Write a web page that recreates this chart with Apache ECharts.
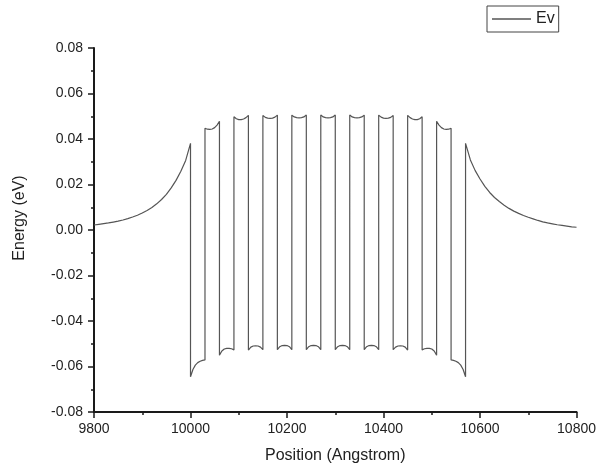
<!DOCTYPE html>
<html>
<head>
<meta charset="utf-8">
<title>Ev profile</title>
<script src="https://cdn.jsdelivr.net/npm/echarts@6/dist/echarts.min.js"></script>
<style>
  html, body { margin: 0; padding: 0; background: #fff; }
  #chart { width: 599px; height: 472px; }
</style>
</head>
<body>
<div id="chart"></div>
<script>
// Valence band edge (Ev) across the multi-quantum-well stack.

// Left cladding layer
const leftCladPos = [9800, 9810, 9820, 9830, 9840, 9850, 9860, 9870, 9880, 9890, 9900,
                     9910, 9920, 9930, 9940, 9950, 9960, 9970, 9980, 9990, 10000];
const leftCladEv = [0.0022, 0.0025, 0.0028, 0.0031, 0.0035, 0.0039, 0.0044, 0.0050, 0.0057, 0.0065, 0.0075,
                    0.0086, 0.0099, 0.0115, 0.0134, 0.0157, 0.0185, 0.0218, 0.0258, 0.0306, 0.0381];

// Stack layers: each layer is 30 Å thick, sampled every 5 Å
const layerStarts = [10000, 10030, 10060, 10090, 10120, 10150, 10180, 10210, 10240, 10270,
                     10300, 10330, 10360, 10390, 10420, 10450, 10480, 10510, 10540];
const layerSteps = [0, 5, 10, 15, 20, 25, 30];
const layerEv = [
  [-0.0645, -0.0613, -0.0594, -0.0583, -0.0577, -0.0573, -0.0571],
  [0.0447, 0.0443, 0.0442, 0.0444, 0.0450, 0.0461, 0.0478],
  [-0.0550, -0.0532, -0.0523, -0.0520, -0.0520, -0.0522, -0.0527],
  [0.0498, 0.0489, 0.0485, 0.0485, 0.0488, 0.0494, 0.0504],
  [-0.0528, -0.0515, -0.0510, -0.0509, -0.0510, -0.0515, -0.0526],
  [0.0503, 0.0495, 0.0492, 0.0491, 0.0492, 0.0496, 0.0505],
  [-0.0526, -0.0513, -0.0508, -0.0507, -0.0508, -0.0513, -0.0526],
  [0.0505, 0.0497, 0.0494, 0.0493, 0.0494, 0.0497, 0.0506],
  [-0.0526, -0.0513, -0.0508, -0.0507, -0.0508, -0.0513, -0.0526],
  [0.0506, 0.0497, 0.0494, 0.0493, 0.0494, 0.0497, 0.0506],
  [-0.0526, -0.0513, -0.0508, -0.0507, -0.0508, -0.0513, -0.0526],
  [0.0506, 0.0497, 0.0494, 0.0493, 0.0494, 0.0497, 0.0505],
  [-0.0526, -0.0513, -0.0508, -0.0507, -0.0508, -0.0513, -0.0526],
  [0.0505, 0.0496, 0.0492, 0.0491, 0.0492, 0.0495, 0.0503],
  [-0.0526, -0.0515, -0.0510, -0.0509, -0.0510, -0.0515, -0.0528],
  [0.0504, 0.0494, 0.0488, 0.0485, 0.0485, 0.0489, 0.0498],
  [-0.0527, -0.0522, -0.0520, -0.0520, -0.0523, -0.0532, -0.0550],
  [0.0478, 0.0461, 0.0450, 0.0444, 0.0442, 0.0443, 0.0447],
  [-0.0571, -0.0573, -0.0577, -0.0583, -0.0594, -0.0613, -0.0645]
];

// Right cladding layer
const rightCladPos = [10570, 10580, 10590, 10600, 10610, 10620, 10630, 10640, 10650, 10660, 10670, 10680,
                      10690, 10700, 10710, 10720, 10730, 10740, 10750, 10760, 10770, 10780, 10790, 10800];
const rightCladEv = [0.0381, 0.0308, 0.0261, 0.0224, 0.0192, 0.0165, 0.0143, 0.0125, 0.0109, 0.0095, 0.0083, 0.0073,
                     0.0064, 0.0056, 0.0049, 0.0042, 0.0036, 0.0031, 0.0027, 0.0023, 0.0020, 0.0017, 0.0014, 0.0012];

// Axis ticks
const xTicks = { min: 9800, max: 10800, interval: 200 };
const yTicks = { min: -0.08, max: 0.08, interval: 0.02 };

// Assemble the profile; repeated positions give the abrupt interface steps
const profile = [];
leftCladPos.forEach((x, i) => profile.push([x, leftCladEv[i]]));
layerStarts.forEach((start, k) => {
  layerSteps.forEach((dx, j) => profile.push([start + dx, layerEv[k][j]]));
});
rightCladPos.forEach((x, i) => profile.push([x, rightCladEv[i]]));

const axisColor = '#1a1a1a';
const textColor = '#222';
const lineColor = '#555';
const font = '"Liberation Sans", Arial, sans-serif';

const chart = echarts.init(document.getElementById('chart'), null, { renderer: 'canvas' });
chart.setOption({
  animation: false,
  backgroundColor: '#fff',
  textStyle: { fontFamily: font },
  grid: { left: 94, right: 22, top: 48, bottom: 60, containLabel: false },
  legend: {
    show: true,
    left: 487,
    top: 6,
    orient: 'horizontal',
    data: [{ name: 'Ev', icon: 'rect' }],
    itemWidth: 39,
    itemHeight: 1.5,
    itemStyle: { color: lineColor },
    padding: [5, 4, 5, 5],
    borderColor: '#444',
    borderWidth: 1,
    borderRadius: 0,
    textStyle: { color: textColor, fontSize: 16, fontFamily: font, lineHeight: 16 }
  },
  xAxis: {
    type: 'value',
    min: xTicks.min,
    max: xTicks.max,
    interval: xTicks.interval,
    name: 'Position (Angstrom)',
    nameLocation: 'middle',
    nameGap: 36,
    nameTextStyle: { color: textColor, fontSize: 16, fontFamily: font },
    axisLine: { show: true, onZero: false, lineStyle: { color: axisColor, width: 2 } },
    axisTick: { show: true, inside: false, length: 6, lineStyle: { color: axisColor, width: 1.5 } },
    minorTick: { show: true, splitNumber: 2, length: 3, lineStyle: { color: axisColor, width: 1.5 } },
    axisLabel: { color: textColor, fontSize: 14, margin: 10, fontFamily: font, formatter: v => String(v) },
    splitLine: { show: false }
  },
  yAxis: {
    type: 'value',
    min: yTicks.min,
    max: yTicks.max,
    interval: yTicks.interval,
    name: 'Energy (eV)',
    nameLocation: 'middle',
    nameGap: 66,
    nameRotate: 90,
    nameTextStyle: { color: textColor, fontSize: 16, fontFamily: font, padding: [0, 0, 0, 24] },
    axisLine: { show: true, onZero: false, lineStyle: { color: axisColor, width: 2 } },
    axisTick: { show: true, inside: false, length: 6, lineStyle: { color: axisColor, width: 1.5 } },
    minorTick: { show: true, splitNumber: 2, length: 3, lineStyle: { color: axisColor, width: 1.5 } },
    axisLabel: {
      color: textColor, fontSize: 14, margin: 11, fontFamily: font,
      formatter: v => v.toFixed(2)
    },
    splitLine: { show: false }
  },
  series: [{
    name: 'Ev',
    type: 'line',
    data: profile,
    showSymbol: false,
    symbol: 'none',
    smooth: false,
    lineStyle: { color: lineColor, width: 1.2 },
    itemStyle: { color: lineColor }
  }]
});
</script>
</body>
</html>
